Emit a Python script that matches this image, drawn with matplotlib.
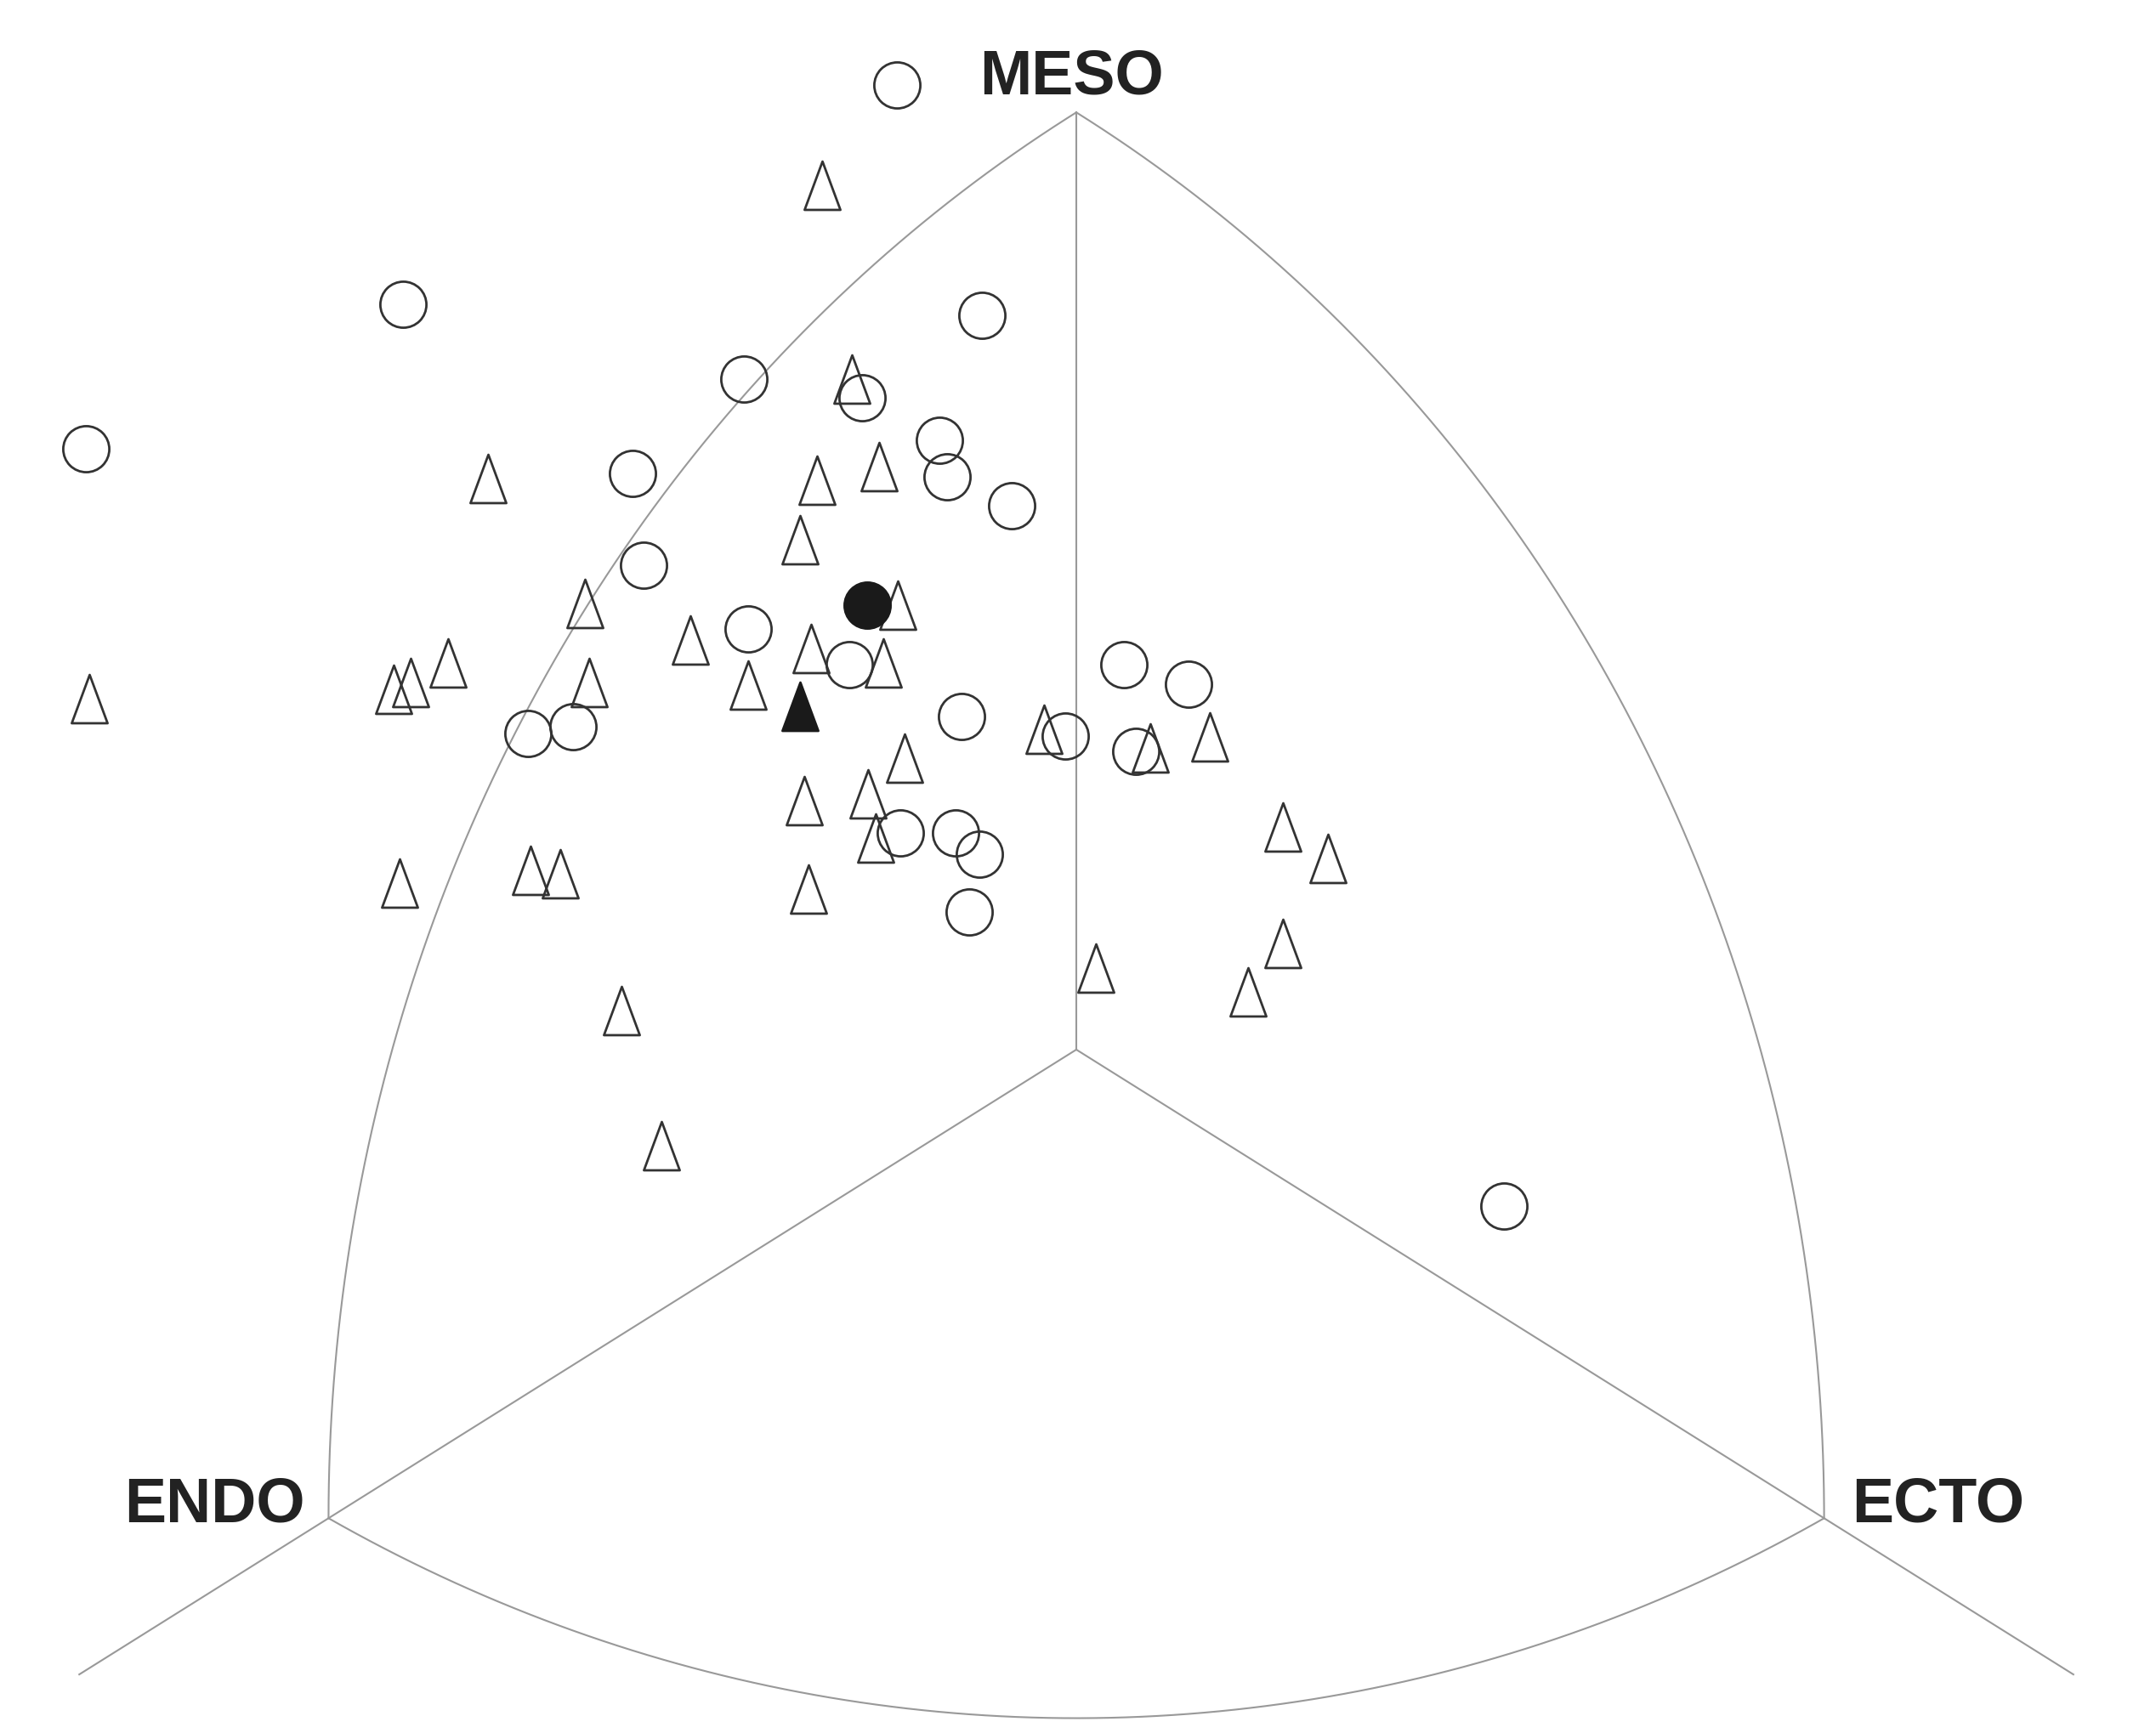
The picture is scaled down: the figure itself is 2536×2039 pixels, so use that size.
import numpy as np
import matplotlib.pyplot as plt
from matplotlib.path import Path

# somatochart coordinates: X = ecto - endo, Y = 2*meso - (endo + ecto)
circle_x = [-1.44, -5.40, -7.95, -0.76, -2.67, -1.72, -1.10, -3.56, -1.04, -0.52,
            -3.47, -2.63, -1.82, 0.38, 0.90, -4.40, -4.04, -0.92, -0.09, 0.48,
            -1.41, -0.97, -0.78, -0.86, 3.43]
circle_y = [12.35, 9.54, 7.69, 9.40, 8.59, 8.35, 7.80, 7.38, 7.33, 6.96,
            6.20, 5.39, 4.93, 4.93, 4.68, 4.05, 4.14, 4.26, 4.02, 3.82,
            2.77, 2.77, 2.50, 1.76, -2.00]

triangle_x = [-2.04, -1.80, -4.72, -2.08, -1.58, -2.22, -3.94, -1.43, -7.92, -5.48,
              -5.34, -5.04, -3.91, -3.10, -2.63, -2.13, -1.55, -0.26, 0.59, 1.07,
              -1.38, -2.18, -1.67, -1.61, -5.43, -4.38, -4.14, -2.15, 1.66, 2.02,
              1.66, 1.38, 0.16, -3.65, -3.33]
triangle_y = [11.07, 8.59, 7.31, 7.29, 7.47, 6.53, 5.71, 5.69, 4.49, 4.61,
              4.70, 4.95, 4.70, 5.25, 4.67, 5.14, 4.95, 4.10, 3.86, 4.00,
              3.73, 3.19, 3.28, 2.71, 2.13, 2.30, 2.25, 2.06, 2.85, 2.45,
              1.36, 0.74, 1.04, 0.50, -1.23]

# group means (filled symbols)
mean_circle = (-1.68, 5.69)
mean_triangle = (-2.22, 4.40)

labels = ['ENDO', 'MESO', 'ECTO']
vertices = [(-6, -6), (0, 12), (6, -6)]

K = np.sqrt(3)  # x unit vs y unit of the Reuleaux frame
BOTTOM = -8.56  # lowest point of the ENDO-ECTO arc


def arc(p, q, c, n=300):
    # circular arc from p to q around c, drawn in the equilateral frame
    p = np.array([p[0] * K, p[1]])
    q = np.array([q[0] * K, q[1]])
    c = np.array([c[0] * K, c[1]])
    r = np.hypot(*(p - c))
    a0 = np.arctan2(*(p - c)[::-1])
    a1 = np.arctan2(*(q - c)[::-1])
    if a1 - a0 > np.pi:
        a1 -= 2 * np.pi
    if a0 - a1 > np.pi:
        a1 += 2 * np.pi
    t = np.linspace(a0, a1, n)
    return (c[0] + r * np.cos(t)) / K, c[1] + r * np.sin(t)


fig = plt.figure(figsize=(25.36, 20.40), dpi=100)
ax = fig.add_axes([0, 0, 1, 1])
ax.set_xlim(-8.636, 8.663)
ax.set_ylim(-8.75, 13.45)
ax.axis('off')

line_kw = dict(color='#999999', lw=1.5, zorder=1)
endo, meso, ecto = vertices

# axes from the centre
ax.plot([0, 0], [0, meso[1]], **line_kw)
ax.plot([0, -8], [0, -8], **line_kw)
ax.plot([0, 8], [0, -8], **line_kw)

# curved frame
ax.plot(*arc(endo, meso, ecto), **line_kw)
ax.plot(*arc(meso, ecto, endo), **line_kw)
yc = (BOTTOM ** 2 - 144) / (12 + 2 * BOTTOM)
ax.plot(*arc(endo, ecto, (0, yc)), **line_kw)

tri = Path([(0, 0.5), (-0.37, -0.5), (0.37, -0.5), (0, 0.5)],
           [Path.MOVETO, Path.LINETO, Path.LINETO, Path.CLOSEPOLY])

ax.plot(circle_x, circle_y, 'o', ms=39, mfc='none', mec='#333333', mew=2.0, zorder=3)
ax.plot(triangle_x, triangle_y, ls='none', marker=tri, ms=41, mfc='none',
        mec='#333333', mew=2.0, zorder=3)
ax.plot(*mean_circle, 'o', ms=39, mfc='#1a1a1a', mec='#1a1a1a', mew=2.0, zorder=4)
ax.plot(*mean_triangle, ls='none', marker=tri, ms=41, mfc='#1a1a1a',
        mec='#1a1a1a', mew=2.0, zorder=4)

font = dict(family=['Liberation Sans', 'DejaVu Sans'], weight='bold',
            size=53, color='#222222', va='baseline')
ax.text(-6.19, -6.03, labels[0], ha='right', **font)
ax.text(-0.78, 12.25, labels[1], ha='left', **font)
ax.text(6.22, -6.03, labels[2], ha='left', **font)

fig.savefig('out.png', dpi=100)
